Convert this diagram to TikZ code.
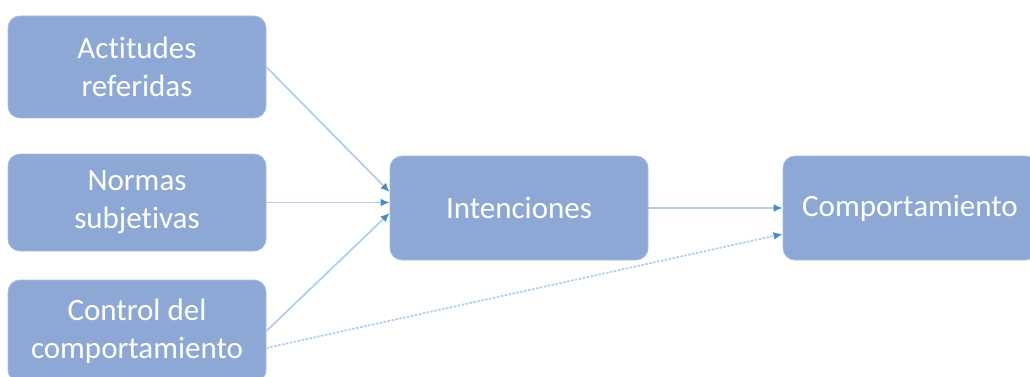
\documentclass[tikz,border=0pt]{standalone}
\usepackage{fontspec}
\setmainfont[Ligatures=NoCommon]{Carlito}
\usetikzlibrary{arrows.meta}
\definecolor{boxfill}{HTML}{8EA8D5}
\definecolor{boxedge}{HTML}{A7BCE0}
\definecolor{linkcol}{HTML}{B4CFE8}
\definecolor{tipcol}{HTML}{4A8CCB}
\tikzset{
  blockbox/.style={rectangle, rounded corners=12pt, fill=boxfill, draw=boxedge, line width=0.8pt,
    text=white, align=center, minimum width=258pt, minimum height=100pt,
    font=\fontsize{31pt}{38pt}\selectfont},
  link/.style={draw=linkcol, line width=1.8pt, -{Latex[length=9pt,width=8pt,color=tipcol]}},
  dottedlink/.style={link, dash pattern=on 2.5pt off 1.5pt}
}
\begin{document}
\begin{tikzpicture}[x=1pt,y=-1pt]
\useasboundingbox (0,0) rectangle (1030,377);
\node[blockbox, minimum height=102pt] (act) at (137,67) {Actitudes\\referidas};
\node[blockbox, minimum height=97pt] (nor) at (137,202.5) {Normas\\subjetivas};
\node[blockbox, minimum height=102pt] (con) at (137,331) {Control del\\comportamiento};
\node[blockbox, minimum height=104pt] (int) at (519,208) {Intenciones};
\node[blockbox, minimum width=254pt, minimum height=104pt] (com) at (910,208) {Comportamiento};

\draw[link] (act.east) -- ([yshift=16pt]int.west);
\draw[link] (nor.east) -- (int.west |- nor.east);
\draw[link] (con.east) -- ([yshift=-5pt]int.west);
\draw[link] (int.east) -- (com.west);
\draw[dottedlink] ([yshift=-17pt]con.east) -- ([yshift=-26pt]com.west);
\end{tikzpicture}
\end{document}
